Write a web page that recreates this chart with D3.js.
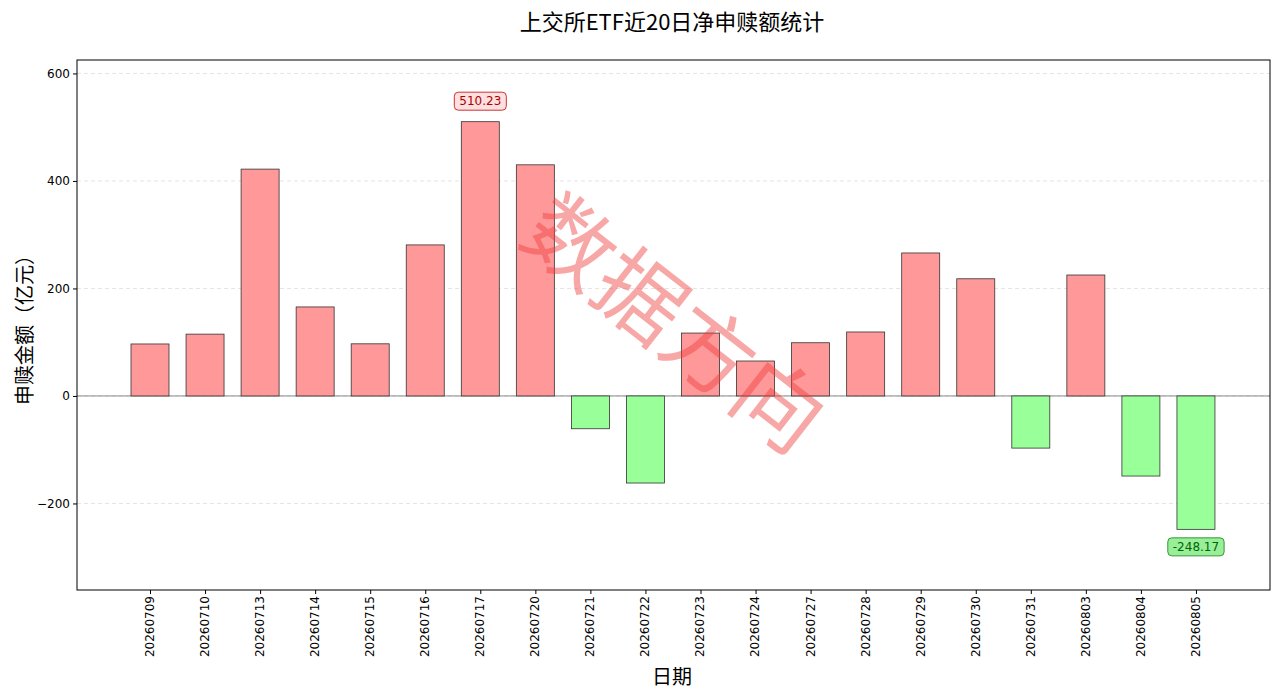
<!DOCTYPE html>
<html><head><meta charset="utf-8">
<script src="https://cdn.jsdelivr.net/npm/d3@7"></script>
<style>body{margin:0;background:#fff}svg{display:block}</style>
</head><body><svg id="c" width="1280" height="696"></svg>
<script>
const dates=["20260709","20260710","20260713","20260714","20260715","20260716","20260717","20260720","20260721","20260722","20260723","20260724","20260727","20260728","20260729","20260730","20260731","20260803","20260804","20260805"];
const values=[96.7,115,422,165.6,97,281,510.23,430,-61,-162,117,65,99,119,266,218,-97,225,-149,-248.17];
const yTicks=[-200,0,200,400,600];
const svg=d3.select("#c");
const L=77,R=1270,T=60,B=590;
const font="'Noto Sans CJK SC','DejaVu Sans',sans-serif";
const y=d3.scaleLinear().domain([-361,625]).range([B,T]);
const step=55.05;
const x=d3.scaleLinear().domain([0,19]).range([150,150+19*step]);
const bw=38;
svg.append("text").attr("x",672).attr("y",30).attr("text-anchor","middle").attr("font-family",font).attr("font-size",22).text("上交所ETF近20日净申赎额统计");
const g=svg.append("g");
yTicks.forEach(t=>{g.append("line").attr("x1",L).attr("x2",R).attr("y1",y(t)).attr("y2",y(t)).attr("stroke","#ddd").attr("stroke-dasharray","4,3").attr("stroke-width",0.8);});
g.append("line").attr("x1",L).attr("x2",R).attr("y1",y(0)).attr("y2",y(0)).attr("stroke","#888").attr("stroke-width",1);
g.selectAll("rect.b").data(values).join("rect").attr("x",(d,i)=>x(i)-bw/2).attr("width",bw)
 .attr("y",d=>y(Math.max(0,d))).attr("height",d=>Math.abs(y(d)-y(0)))
 .attr("fill",d=>d>=0?"#ff9999":"#99ff99").attr("stroke","#333").attr("stroke-width",0.8);
svg.append("rect").attr("x",L).attr("y",T).attr("width",R-L).attr("height",B-T).attr("fill","none").attr("stroke","#000");
svg.append("g").attr("transform",`translate(${L},0)`).call(d3.axisLeft(y).tickValues(yTicks).tickSize(4).tickFormat(d=>d<0?"−"+(-d):d))
 .call(a=>a.select(".domain").remove()).selectAll("text").attr("font-family","'DejaVu Sans',sans-serif").attr("font-size",12).attr("fill","#000");
const xa=svg.append("g").attr("transform",`translate(0,${B})`).call(d3.axisBottom(x).tickValues(d3.range(20)).tickSize(4).tickFormat(i=>dates[i]));
xa.select(".domain").remove();
xa.selectAll("text").attr("font-family","'DejaVu Sans',sans-serif").attr("font-size",12).attr("fill","#000").attr("transform","rotate(-90)").attr("text-anchor","end").attr("dx","-0.5em").attr("dy","-0.3em");
svg.append("text").attr("x",672).attr("y",684).attr("text-anchor","middle").attr("font-family",font).attr("font-size",20).text("日期");
svg.append("text").attr("transform","translate(32,325) rotate(-90)").attr("text-anchor","middle").attr("font-family",font).attr("font-size",20).text("申赎金额（亿元）");
function ann(i,txt,yy,fill,stroke,col){
 const t=svg.append("text").attr("x",x(i)).attr("y",yy).attr("text-anchor","middle").attr("dominant-baseline","middle").attr("font-family","'DejaVu Sans',sans-serif").attr("font-size",12).attr("fill",col).text(txt);
 const bb=t.node().getBBox();
 svg.insert("rect",()=>t.node()).attr("x",bb.x-5).attr("y",bb.y-2).attr("width",bb.width+10).attr("height",bb.height+4).attr("rx",4).attr("fill",fill).attr("stroke",stroke);
}
ann(6,values[6].toFixed(2),y(values[6])-20,"#ffe0e0","#c33","#a00");
ann(19,"-"+Math.abs(values[19]).toFixed(2),y(values[19])+18,"#99ee99","#393","#060");
svg.append("text").attr("x",670).attr("y",330).attr("text-anchor","middle").attr("dominant-baseline","middle").attr("transform","rotate(38,670,330)").attr("font-family",font).attr("font-size",88).attr("fill","rgba(240,60,60,0.45)").text("数据方向");
</script></body></html>
